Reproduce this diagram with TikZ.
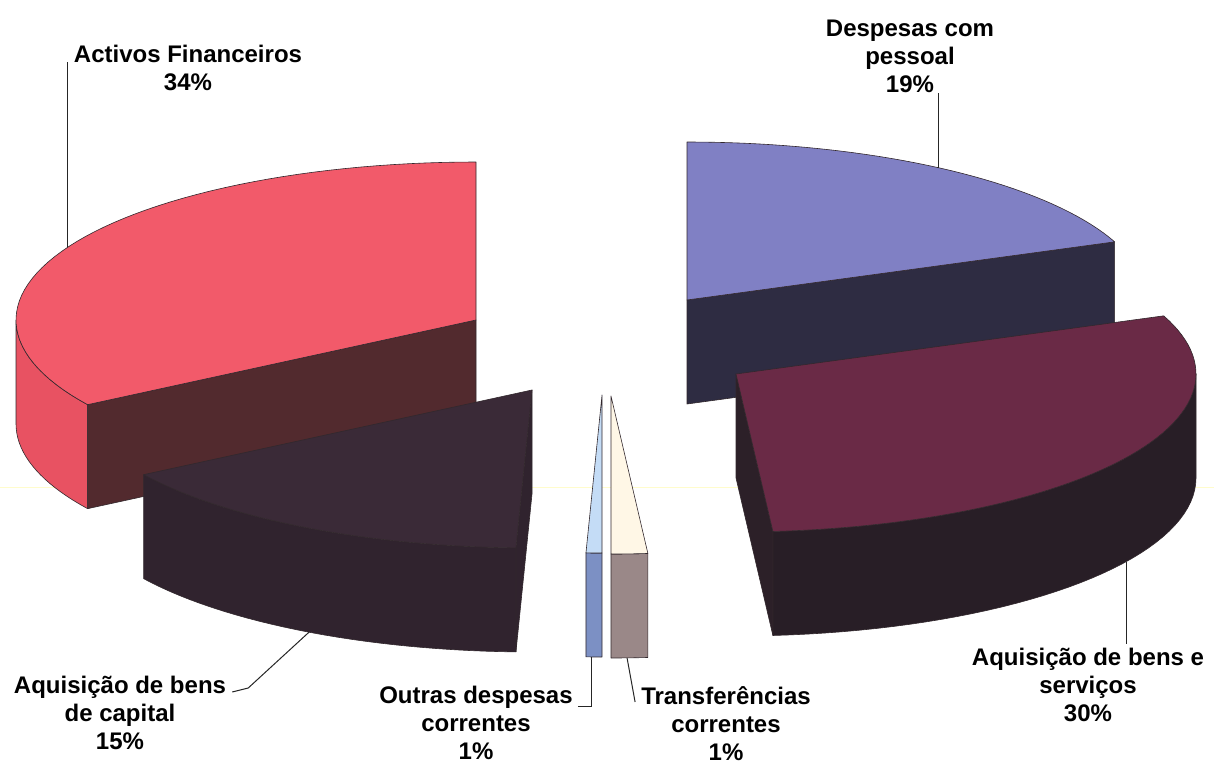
\documentclass[tikz,border=0pt]{standalone}
\usepackage{fontspec}
\setmainfont{Liberation Sans}
\usetikzlibrary{positioning,calc}

\definecolor{redtop}{RGB}{242,90,106}
\definecolor{redside}{RGB}{232,82,98}
\definecolor{redcut}{RGB}{82,42,46}
\definecolor{captop}{RGB}{58,42,55}
\definecolor{capside}{RGB}{48,35,46}
\definecolor{bluetop}{RGB}{128,128,196}
\definecolor{bluecut}{RGB}{46,44,66}
\definecolor{wintop}{RGB}{106,42,70}
\definecolor{wincut}{RGB}{44,32,40}
\definecolor{winside}{RGB}{40,30,38}
\definecolor{outtop}{RGB}{196,220,246}
\definecolor{outside}{RGB}{124,144,196}
\definecolor{trftop}{RGB}{255,247,230}
\definecolor{trfside}{RGB}{154,136,136}
\definecolor{edge}{RGB}{50,40,45}

\newcommand{\pieRx}{460}
\newcommand{\pieRy}{158}
\newcommand{\pieD}{104}

\begin{document}
\begin{tikzpicture}[x=1pt, y=-1pt,
    face/.style={draw=edge, line width=0.6pt, line join=round},
    lbl/.style={font=\fontsize{24}{28}\selectfont\bfseries, align=center, inner sep=0pt, anchor=north},
    leader/.style={draw=black!85, line width=1pt}]
        \useasboundingbox (0,0) rectangle (1214,767);
        % scan line
        \draw[yellow!20, line width=1pt] (0,487) -- (1214,487);

        % Despesas com pessoal
        \begin{scope}[shift={(687,300)}]
            \fill[bluecut, face] (0,0) -- ({\pieRx*cos(21.6)},{-\pieRy*sin(21.6)}) -- ++(0,\pieD) -- (0,\pieD) -- cycle;
            \fill[bluetop, face] (0,0) -- plot[domain=21.6:90, samples=40] ({\pieRx*cos(\x)},{-\pieRy*sin(\x)}) -- cycle;
            \coordinate (pP) at ({\pieRx*cos(56.8)},{-\pieRy*sin(56.8)});
        \end{scope}

        % Activos Financeiros
        \begin{scope}[shift={(476,320)}]
            \fill[redside, face] plot[domain=180:212.4, samples=20] ({\pieRx*cos(\x)},{-\pieRy*sin(\x)})
                -- plot[domain=212.4:180, samples=20] ({\pieRx*cos(\x)},{\pieD-\pieRy*sin(\x)}) -- cycle;
            \fill[redcut, face] (0,0) -- ({\pieRx*cos(212.4)},{-\pieRy*sin(212.4)}) -- ++(0,\pieD) -- (0,\pieD) -- cycle;
            \fill[redtop, face] (0,0) -- plot[domain=212.4:90, samples=60] ({\pieRx*cos(\x)},{-\pieRy*sin(\x)}) -- cycle;
            \coordinate (pA) at ({\pieRx*cos(152.5)},{-\pieRy*sin(152.5)});
        \end{scope}

        % Aquisicao de bens e servicos
        \begin{scope}[shift={(736,374)}]
            \fill[winside, face] plot[domain=-85.4:0, samples=40] ({\pieRx*cos(\x)},{-\pieRy*sin(\x)})
                -- plot[domain=0:-85.4, samples=40] ({\pieRx*cos(\x)},{\pieD-\pieRy*sin(\x)}) -- cycle;
            \fill[wincut, face] (0,0) -- ({\pieRx*cos(-85.4)},{-\pieRy*sin(-85.4)}) -- ++(0,\pieD) -- (0,\pieD) -- cycle;
            \fill[wintop, face] (0,0) -- plot[domain=-85.4:21.6, samples=60] ({\pieRx*cos(\x)},{-\pieRy*sin(\x)}) -- cycle;
            \coordinate (pS) at ({\pieRx*cos(-32)},{\pieD-\pieRy*sin(-32)});
        \end{scope}

        % Aquisicao de bens de capital
        \begin{scope}[shift={(532,390)}]
            \fill[capside, face] plot[domain=212.4:268, samples=30] ({\pieRx*cos(\x)},{-\pieRy*sin(\x)})
                -- plot[domain=268:212.4, samples=30] ({\pieRx*cos(\x)},{\pieD-\pieRy*sin(\x)}) -- cycle;
            \fill[capside, face] (0,0) -- ({\pieRx*cos(268)},{-\pieRy*sin(268)}) -- ++(0,\pieD) -- (0,\pieD) -- cycle;
            \fill[captop, face] (0,0) -- plot[domain=212.4:268, samples=30] ({\pieRx*cos(\x)},{-\pieRy*sin(\x)}) -- cycle;
            \coordinate (pK) at ({\pieRx*cos(241)},{\pieD-\pieRy*sin(241)});
        \end{scope}

        % Outras despesas correntes
        \begin{scope}[shift={(602,395)}]
            \fill[outside, face] plot[domain=268:270, samples=5] ({\pieRx*cos(\x)},{-\pieRy*sin(\x)})
                -- plot[domain=270:268, samples=5] ({\pieRx*cos(\x)},{\pieD-\pieRy*sin(\x)}) -- cycle;
            \fill[outtop, face] (0,0) -- plot[domain=268:270, samples=5] ({\pieRx*cos(\x)},{-\pieRy*sin(\x)}) -- cycle;
            \coordinate (pO) at ({\pieRx*cos(268.7)},{\pieD-\pieRy*sin(268.7)});
        \end{scope}

        % Transferencias correntes
        \begin{scope}[shift={(611,396)}]
            \fill[trfside, face] plot[domain=270:274.6, samples=5] ({\pieRx*cos(\x)},{-\pieRy*sin(\x)})
                -- plot[domain=274.6:270, samples=5] ({\pieRx*cos(\x)},{\pieD-\pieRy*sin(\x)}) -- cycle;
            \fill[trftop, face] (0,0) -- plot[domain=270:274.6, samples=5] ({\pieRx*cos(\x)},{-\pieRy*sin(\x)}) -- cycle;
            \coordinate (pT) at ({\pieRx*cos(272)},{\pieD-\pieRy*sin(272)});
        \end{scope}

        % labels
        \node[lbl] (lblA) at (188,45) {Activos Financeiros\\34\%};
        \node[lbl] (lblP) at (910,20) {Despesas com\\pessoal\\19\%};
        \node[lbl] (lblK) at (120,676) {Aquisição de bens\\de capital\\15\%};
        \node[lbl] (lblO) at (476,686) {Outras despesas\\correntes\\1\%};
        \node[lbl] (lblT) at (726,686) {Transferências\\correntes\\1\%};
        \node[lbl] (lblS) at (1088,648) {Aquisição de bens e\\serviços\\30\%};

        % leader lines
        \draw[leader] (pA) -- ($(pA |- lblA.north)+(0,17)$);
        \draw[leader] (pP) -- (pP |- lblP.south);
        \draw[leader] ($(lblK.north east)+(6,16)$) -- ++(16,-4) -- (pK);
        \draw[leader] ($(lblO.north east)+(5,20)$) -| (pO);
        \draw[leader] ($(lblT.north west)+(-6,16)$) -- (pT);
        \draw[leader] (pS) -- ($(pS |- lblS.north)+(0,-4)$);
    \end{tikzpicture}
\end{document}
